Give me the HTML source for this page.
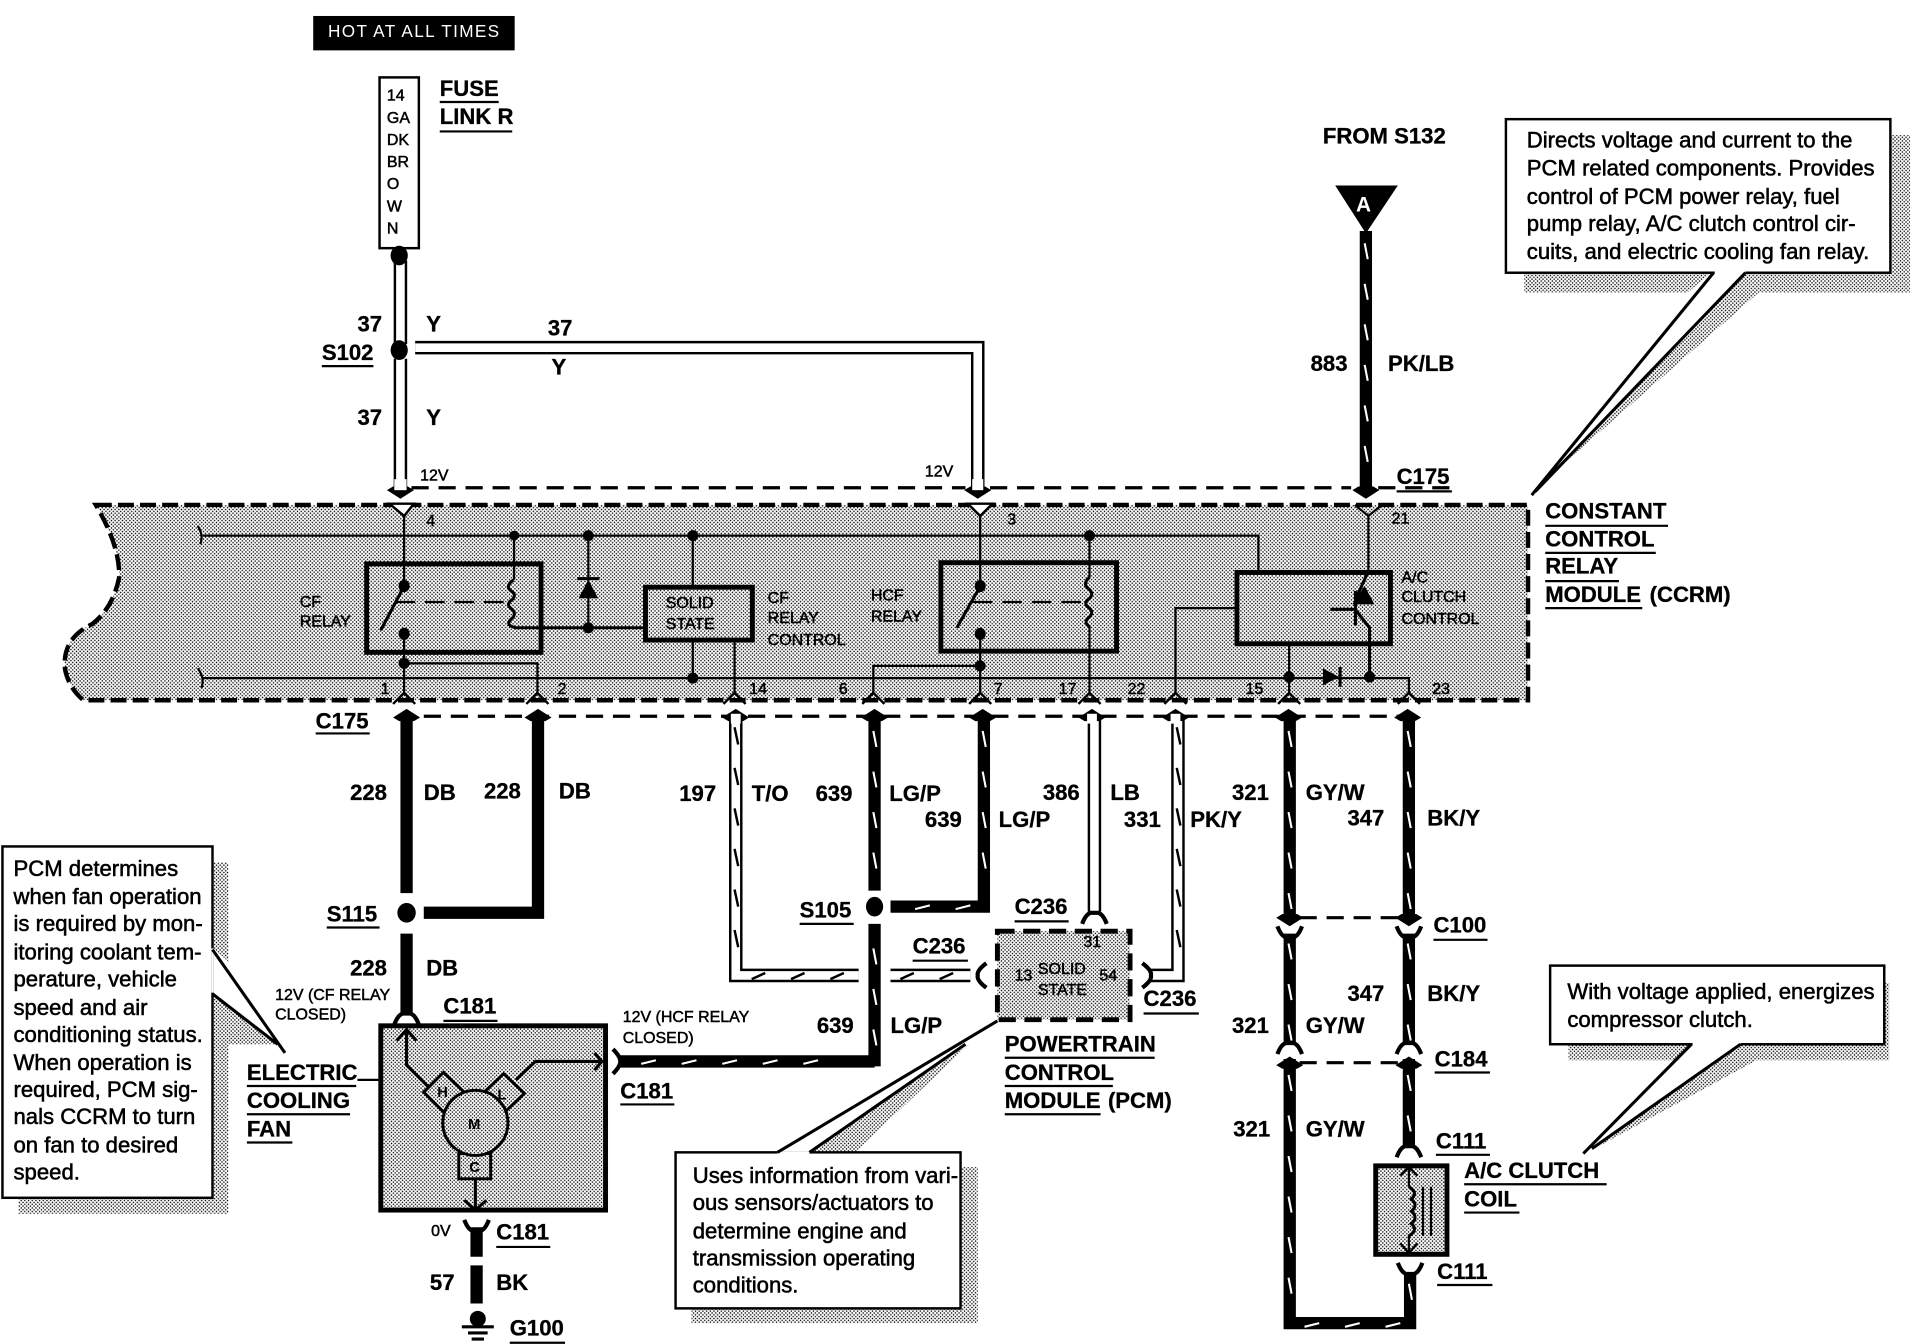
<!DOCTYPE html>
<html><head><meta charset="utf-8"><title>CCRM wiring diagram</title>
<style>
html,body{margin:0;padding:0;background:#fff}
svg{display:block}
text{font-family:"Liberation Sans",sans-serif;fill:#000}
.b{font-weight:bold;font-size:18px;stroke:#000;stroke-width:.25}
.n{font-size:18px;stroke:#000;stroke-width:.45}
.s{font-size:13px;stroke:#000;stroke-width:.4}
.u{stroke:#000;stroke-width:1.8;fill:none}
.w{stroke:#000;stroke-width:10;fill:none}
.t{stroke:#fff;stroke-width:1.7;fill:none}
.d1{stroke:#000;stroke-width:11;fill:none}
.d2{stroke:#fff;stroke-width:7;fill:none}
.tk{stroke:#000;stroke-width:2;fill:none}
.l{stroke:#000;stroke-width:1.8;fill:none}
.m{stroke:#000;stroke-width:2.5;fill:none}
.box{stroke:#000;stroke-width:4;fill:none}
.dash{stroke:#000;stroke-width:2.6;fill:none;stroke-dasharray:14 8}
</style></head><body>
<svg xmlns="http://www.w3.org/2000/svg" width="1926" height="1344" viewBox="0 0 1568 1094" preserveAspectRatio="none">
<defs>
<pattern id="g" patternUnits="userSpaceOnUse" width="3" height="3">
<rect width="3" height="3" fill="#fff"/><circle cx=".75" cy=".75" r=".62" fill="#000"/><circle cx="2.25" cy="2.25" r=".62" fill="#000"/>
</pattern>
<polygon id="au" points="0,-2 11,5 6,8 -6,8 -11,5" fill="#000"/>
<polygon id="ad" points="0,2 11,-5 6,-8 -6,-8 -11,-5" fill="#000"/>
<path id="cu" d="M-10,-6 Q-7,2 -3,3 L3,3 Q7,2 10,-6" fill="none" stroke="#000" stroke-width="3.4"/>
<path id="cd" d="M-10,6 Q-7,-2 -3,-3 L3,-3 Q7,-2 10,6" fill="none" stroke="#000" stroke-width="3.4"/>
<path id="pin" d="M-9,6 L0,-3 L9,6" fill="none" stroke="#000" stroke-width="2"/>
</defs>
<rect width="1568" height="1094" fill="#fff"/>

<!-- header -->
<rect x="255" y="13" width="164" height="28" fill="#000"/>
<text x="267" y="30" style="fill:#fff;font-size:14px;letter-spacing:1.1px">HOT AT ALL TIMES</text>
<rect x="309" y="63" width="32" height="139" fill="#fff" stroke="#000" stroke-width="2"/>
<g><text x="315" y="82" class="s">14</text><text x="315" y="100" class="s">GA</text><text x="315" y="118" class="s">DK</text><text x="315" y="136" class="s">BR</text><text x="315" y="154" class="s">O</text><text x="315" y="172" class="s">W</text><text x="315" y="190" class="s">N</text></g>
<text x="358" y="78" class="b">FUSE</text><path class="u" d="M358 83H406"/>
<text x="358" y="101" class="b">LINK R</text><path class="u" d="M358 107H417"/>

<!-- 37 double wires -->
<path class="d1" d="M326 212V280M326 292V402"/><path class="d2" d="M326 212V280M326 292V402"/>
<path class="d1" d="M338 283H796V402"/><path class="d2" d="M338 283H796V402"/>
<ellipse cx="325" cy="208" rx="7" ry="8" fill="#000"/>
<ellipse cx="325" cy="285" rx="7" ry="8" fill="#000"/>
<use href="#ad" x="326" y="404"/><use href="#ad" x="796" y="404"/>
<rect x="321" y="390" width="10" height="9" fill="#fff"/><rect x="791.500" y="390" width="9" height="9" fill="#fff"/>
<path class="dash" d="M335 397H786M806 397H1100M1122 397H1180"/>
<text x="291" y="270" class="b">37</text><text x="347" y="270" class="b">Y</text>
<text x="446" y="273" class="b">37</text><text x="449" y="305" class="b">Y</text>
<text x="291" y="346" class="b">37</text><text x="347" y="346" class="b">Y</text>
<text x="262" y="293" class="b">S102</text><path class="u" d="M262 298H304"/>
<text x="342" y="391" class="s">12V</text><text x="753" y="388" class="s">12V</text>

<!-- from S132 -->
<text x="1077" y="117" class="b">FROM S132</text>
<polygon points="1087,151 1138,151 1112,190" fill="#000"/>
<text x="1104" y="172" style="fill:#fff;font-weight:bold;font-size:17px">A</text>
<path class="w" d="M1112 188V398"/>
<path class="t" d="M1111 198l2.500 13m-2.500 20l2.500 13m-2.500 20l2.500 13m-2.500 20l2.500 13m-2.500 20l2.500 13m-2.500 20l2.500 13"/>
<use href="#ad" x="1112" y="404"/>
<text x="1067" y="302" class="b">883</text><text x="1130" y="302" class="b">PK/LB</text>
<text x="1137" y="394" class="b">C175</text><path class="u" d="M1137 400H1182"/>

<!-- callout top right -->
<path fill="url(#g)" d="M1241 222H1393L1374 238H1241ZM1421 222H1540V110H1555V238H1432L1270 380Z"/>
<rect x="1226" y="97" width="313" height="125" fill="#fff" stroke="#000" stroke-width="2"/>
<path fill="#fff" d="M1396 221H1421V224H1396Z"/>
<path class="m" d="M1395 222L1247 403M1421 222L1250 400"/>
<text x="1243" y="120" class="n">Directs voltage and current to the</text>
<text x="1243" y="143" class="n">PCM related components. Provides</text>
<text x="1243" y="166" class="n">control of PCM power relay, fuel</text>
<text x="1243" y="188" class="n">pump relay, A/C clutch control cir-</text>
<text x="1243" y="211" class="n">cuits, and electric cooling fan relay.</text>

<!-- CCRM -->
<path d="M78 411H1244V570H68Q56 560 53 545Q50 520 75 508Q92 495 97 470Q98 445 78 411Z" fill="url(#g)"/>
<path d="M78 411H1244V570H68Q56 560 53 545Q50 520 75 508Q92 495 97 470Q98 445 78 411Z" fill="none" stroke="#000" stroke-width="3.6" stroke-dasharray="13 5"/>

<path class="l" d="M165 436H1024.500V465M165 552H1147V564"/>
<path class="l" d="M161 428Q166 436 163 443M161 544Q167 552 164 560"/>
<!-- pin 4 / CF relay -->
<polygon points="317,410 337,410 329,420" fill="#fff" stroke="#000" stroke-width="2"/>
<path class="l" d="M329 420V476M329 515V564M329 540H437.500V564"/>
<rect x="298.500" y="459" width="142" height="72" class="box"/>
<ellipse cx="329" cy="477" rx="4.500" ry="5" fill="#000"/><ellipse cx="329" cy="516" rx="4.500" ry="5" fill="#000"/><circle cx="329" cy="540" r="4.500" fill="#000"/>
<path class="m" d="M328 479L310 513"/>
<path class="l" d="M322 490H415" stroke-dasharray="16 8"/>
<path class="l" d="M418.500 436V472"/>
<path class="m" d="M418 472Q411 477 416 481Q421 484 417 488Q411 492 417 496Q421 500 416 504Q411 509 420 511H525"/>
<circle cx="418.500" cy="436" r="4" fill="#000"/>
<circle cx="479" cy="436" r="4.500" fill="#000"/><circle cx="479" cy="511" r="4.500" fill="#000"/><circle cx="564" cy="436" r="4.500" fill="#000"/><circle cx="564" cy="552" r="4.500" fill="#000"/>
<path class="l" d="M479 436V511"/>
<polygon points="479,472 471,487 487,487" fill="#000"/><path class="m" d="M470 471H488"/>
<path class="l" d="M564 436V477M564 521V552M598 521V564"/>
<rect x="525.500" y="478" width="87" height="43" class="box"/>
<text x="542" y="495" class="s">SOLID</text><text x="542" y="512" class="s">STATE</text>
<text x="244" y="494" class="s">CF</text><text x="244" y="510" class="s">RELAY</text>
<text x="625" y="491" class="s">CF</text><text x="625" y="507" class="s">RELAY</text><text x="625" y="525" class="s">CONTROL</text>
<text x="709" y="489" class="s">HCF</text><text x="709" y="506" class="s">RELAY</text>
<!-- HCF relay -->
<polygon points="788,410 808,410 798,420" fill="#fff" stroke="#000" stroke-width="2"/>
<path class="l" d="M798 420V476M798 515V564M798 542H711V564"/>
<rect x="766" y="458" width="143" height="72" class="box"/>
<ellipse cx="798" cy="477" rx="4.500" ry="5" fill="#000"/><ellipse cx="798" cy="516" rx="4.500" ry="5" fill="#000"/><circle cx="798" cy="542" r="4.500" fill="#000"/>
<path class="m" d="M797 479L779 511"/>
<path class="l" d="M792 490H885" stroke-dasharray="16 8"/>
<path class="l" d="M887 436V470M887 509V564"/>
<path class="m" d="M887 470Q881 475 886 479Q891 483 887 487Q881 491 887 495Q891 499 886 503Q882 507 887 510"/>
<circle cx="887" cy="436" r="4.500" fill="#000"/>
<!-- A/C clutch control -->
<rect x="1007" y="466" width="125" height="58" class="box"/>
<path class="l" d="M1007 495H957V564M1049.500 524V564M1114 420V465"/>
<path d="M1103 411L1114 420L1125 411" class="l"/>
<path class="m" d="M1103.500 481V509M1083 496H1103M1114 465L1104 487M1104 497L1115 511V550"/>
<polygon points="1111,477 1101,492 1119,492" fill="#000"/>
<circle cx="1049.500" cy="551" r="4.500" fill="#000"/><circle cx="1115" cy="551" r="4.500" fill="#000"/>
<polygon points="1077,544 1077,558 1090,551" fill="#000"/><path class="m" d="M1091 543V559"/>
<text x="1141" y="474" class="s">A/C</text><text x="1141" y="490" class="s">CLUTCH</text><text x="1141" y="508" class="s">CONTROL</text>
<!-- pins -->
<use href="#pin" x="329" y="567"/><use href="#pin" x="437.500" y="567"/><use href="#pin" x="598" y="567"/><use href="#pin" x="711" y="567"/><use href="#pin" x="798" y="567"/><use href="#pin" x="887" y="567"/><use href="#pin" x="957" y="567"/><use href="#pin" x="1049.500" y="567"/><use href="#pin" x="1147" y="567"/>
<text x="347" y="428" class="s">4</text><text x="820" y="427" class="s">3</text><text x="1133" y="426" class="s">21</text>
<text x="310" y="565" class="s">1</text><text x="454" y="565" class="s">2</text><text x="610" y="565" class="s">14</text><text x="683" y="565" class="s">6</text><text x="809" y="565" class="s">7</text><text x="862" y="565" class="s">17</text><text x="918" y="565" class="s">22</text><text x="1014" y="565" class="s">15</text><text x="1166" y="565" class="s">23</text>

<text x="1258" y="422" class="b">CONSTANT</text><path class="u" d="M1258 428H1358"/>
<text x="1258" y="445" class="b">CONTROL</text><path class="u" d="M1258 450H1348"/>
<text x="1258" y="467" class="b">RELAY</text><path class="u" d="M1258 473H1318"/>
<text x="1258" y="490" class="b">MODULE</text><path class="u" d="M1258 495H1337"/><text x="1343" y="490" class="b">(CCRM)</text>

<!-- lower C175 -->
<path class="dash" d="M345 583H1140"/>
<text x="257" y="593" class="b">C175</text><path class="u" d="M257 597H301"/>

<path class="w" d="M331 582V727M331 760V825"/>
<path class="w" d="M438 582V748M345 743H438"/>
<use href="#au" x="331" y="579"/><use href="#au" x="438" y="579"/>
<ellipse cx="331" cy="743" rx="7.500" ry="8" fill="#000"/>

<path class="d1" d="M599 582V794H699M725 794H790"/><path class="d2" d="M599 582V794H699M725 794H790"/>
<path class="tk" d="M598 592l3 14m-3 19l3 14m-3 19l3 14m-3 19l3 14m-3 19l3 14m-3 19l3 14"/>
<path class="tk" d="M612 797l11 -5m21 5l11 -5m21 5l11 -5M733 797l11 -5m21 5l11 -5"/>
<use href="#au" x="599" y="579"/><rect x="595" y="581" width="8" height="8" fill="#fff"/>

<path class="w" d="M712 582V725M712 752V868M712 864H505"/>
<path class="t" d="M711 595l2.500 13m-2.500 20l2.500 13m-2.500 20l2.500 13m-2.500 20l2.500 13M711 772l2.500 13m-2.500 20l2.500 13m-2.500 20l2.500 13"/>
<path class="t" d="M522 866l12 -3m21 3l12 -3m21 3l12 -3m21 3l12 -3m21 3l12 -3"/>
<use href="#au" x="712" y="579"/>
<ellipse cx="712" cy="738" rx="7" ry="8" fill="#000"/>
<path class="w" d="M801 582V738M806 738H725"/>
<path class="t" d="M800 595l2.500 13m-2.500 20l2.500 13m-2.500 20l2.500 13m-2.500 20l2.500 13M745 740l12 -3m21 3l12 -3"/>
<use href="#au" x="800" y="579"/>
<path class="d1" d="M891 582V742"/><path class="d2" d="M891 582V742"/>
<use href="#au" x="889" y="579"/><rect x="885" y="581" width="8" height="8" fill="#fff"/>
<use href="#cd" x="891" y="746"/>
<path class="d1" d="M959 582V794H936"/><path class="d2" d="M959 582V794H936"/>
<path class="tk" d="M958 592l3 14m-3 19l3 14m-3 19l3 14m-3 19l3 14m-3 19l3 14m-3 19l3 14"/>
<use href="#au" x="957" y="579"/><rect x="953" y="581" width="8" height="8" fill="#fff"/>
<path d="M930 784Q938 790 937 794Q938 798 930 804" fill="none" stroke="#000" stroke-width="3.4"/>
<path d="M803 784Q795 790 796 794Q795 798 803 804" fill="none" stroke="#000" stroke-width="3.4"/>

<path class="w" d="M1050 582V748M1050 760V850M1050 862V1077H1148V1036"/>
<path class="t" d="M1049 595l2.500 13m-2.500 20l2.500 13m-2.500 20l2.500 13m-2.500 20l2.500 13m-2.500 20l2.500 13M1049 768l2.500 13m-2.500 20l2.500 13m-2.500 20l2.500 13M1049 875l2.500 13m-2.500 20l2.500 13m-2.500 20l2.500 13m-2.500 20l2.500 13m-2.500 20l2.500 13m-2.500 20l2.500 13"/>
<path class="t" d="M1147 1045l2.500 13M1062 1080l12 -3m21 3l12 -3m21 3l12 -3"/>
<path class="w" d="M1147 582V748M1147 760V850M1147 862V932"/>
<path class="t" d="M1146 595l2.500 13m-2.500 20l2.500 13m-2.500 20l2.500 13m-2.500 20l2.500 13m-2.500 20l2.500 13M1146 768l2.500 13m-2.500 20l2.500 13m-2.500 20l2.500 13M1146 875l2.500 13m-2.500 20l2.500 13"/>
<use href="#au" x="1049" y="579"/><use href="#au" x="1146" y="579"/>
<use href="#ad" x="1050" y="752"/><use href="#ad" x="1147" y="752"/>
<use href="#cu" x="1050" y="760"/><use href="#cu" x="1147" y="760"/>
<use href="#cd" x="1050" y="852"/><use href="#cd" x="1147" y="852"/>
<use href="#au" x="1050" y="862"/><use href="#au" x="1147" y="862"/>
<path class="dash" d="M1058 747H1138M1058 865H1138"/>

<text x="285" y="651" class="b">228</text><text x="345" y="651" class="b">DB</text>
<text x="394" y="650" class="b">228</text><text x="455" y="650" class="b">DB</text>
<text x="553" y="652" class="b">197</text><text x="612" y="652" class="b">T/O</text>
<text x="664" y="652" class="b">639</text><text x="724" y="652" class="b">LG/P</text>
<text x="753" y="673" class="b">639</text><text x="813" y="673" class="b">LG/P</text>
<text x="849" y="651" class="b">386</text><text x="904" y="651" class="b">LB</text>
<text x="915" y="673" class="b">331</text><text x="969" y="673" class="b">PK/Y</text>
<text x="1003" y="651" class="b">321</text><text x="1063" y="651" class="b">GY/W</text>
<text x="1097" y="672" class="b">347</text><text x="1162" y="672" class="b">BK/Y</text>
<text x="285" y="794" class="b">228</text><text x="347" y="794" class="b">DB</text>
<text x="665" y="841" class="b">639</text><text x="725" y="841" class="b">LG/P</text>
<text x="1097" y="815" class="b">347</text><text x="1162" y="815" class="b">BK/Y</text>
<text x="1003" y="841" class="b">321</text><text x="1063" y="841" class="b">GY/W</text>
<text x="1004" y="925" class="b">321</text><text x="1063" y="925" class="b">GY/W</text>
<text x="266" y="750" class="b">S115</text><path class="u" d="M266 755H309"/>
<text x="651" y="747" class="b">S105</text><path class="u" d="M651 752H695"/>
<text x="826" y="744" class="b">C236</text><path class="u" d="M826 750H870"/>
<text x="743" y="776" class="b">C236</text><path class="u" d="M743 782H788"/>
<text x="931" y="819" class="b">C236</text><path class="u" d="M931 825H976"/>
<text x="1167" y="759" class="b">C100</text><path class="u" d="M1167 765H1211"/>
<text x="1168" y="868" class="b">C184</text><path class="u" d="M1168 873H1213"/>
<text x="1169" y="935" class="b">C111</text><path class="u" d="M1169 940H1213"/>
<text x="1170" y="1041" class="b">C111</text><path class="u" d="M1170 1046H1215"/>

<!-- left callout -->
<path fill="url(#g)" d="M172 702H186V783L172 770ZM172 809L226 850H186V988H15V975H172Z"/>
<rect x="2" y="689" width="171" height="286" fill="#fff" stroke="#000" stroke-width="2"/>
<path fill="#fff" d="M172 772H174V808H172Z"/>
<path class="m" d="M173 773L232 857M173 809L226 850"/>
<text x="11" y="713" class="n">PCM determines</text>
<text x="11" y="736" class="n">when fan operation</text>
<text x="11" y="758" class="n">is required by mon-</text>
<text x="11" y="781" class="n">itoring coolant tem-</text>
<text x="11" y="803" class="n">perature, vehicle</text>
<text x="11" y="826" class="n">speed and air</text>
<text x="11" y="848" class="n">conditioning status.</text>
<text x="11" y="871" class="n">When operation is</text>
<text x="11" y="893" class="n">required, PCM sig-</text>
<text x="11" y="915" class="n">nals CCRM to turn</text>
<text x="11" y="938" class="n">on fan to desired</text>
<text x="11" y="960" class="n">speed.</text>

<!-- motor -->
<text x="224" y="814" class="s">12V (CF RELAY</text><text x="224" y="830" class="s">CLOSED)</text>
<text x="507" y="832" class="s">12V (HCF RELAY</text><text x="507" y="849" class="s">CLOSED)</text>
<use href="#cd" x="331" y="828"/>
<text x="361" y="825" class="b">C181</text><path class="u" d="M361 831H405"/>
<text x="505" y="894" class="b">C181</text><path class="u" d="M505 899H549"/>
<text x="201" y="879" class="b">ELECTRIC</text><path class="u" d="M201 884H290"/><path class="l" d="M291 879H308"/>
<text x="201" y="902" class="b">COOLING</text><path class="u" d="M201 907H285"/>
<text x="201" y="925" class="b">FAN</text><path class="u" d="M201 930H238"/>
<path d="M499 854Q505 860 505 864Q505 868 499 874" fill="none" stroke="#000" stroke-width="3.4"/>
<rect x="310" y="835" width="183" height="150" fill="url(#g)" stroke="#000" stroke-width="4"/>
<path class="m" d="M331 838V867L351 887M323 847L331 838L339 847M420 879L436 864H490M484 857L490 864L484 871M387 960V984M378 977L387 985L396 977"/>
<polygon points="361,873 378,889 361,905 345,889" fill="url(#g)" stroke="#000" stroke-width="2.400"/>
<polygon points="410,874 427,890 410,906 393,890" fill="url(#g)" stroke="#000" stroke-width="2.400"/>
<rect x="373.500" y="939" width="26" height="20.500" fill="url(#g)" stroke="#000" stroke-width="2.400"/>
<circle cx="387" cy="914" r="26.500" fill="url(#g)" stroke="#000" stroke-width="2.400"/>
<text x="356" y="893" style="font-size:12px;font-weight:bold">H</text><text x="405" y="895" style="font-size:12px;font-weight:bold">L</text><text x="381" y="919" style="font-size:12px;font-weight:bold">M</text><text x="382" y="954" style="font-size:12px;font-weight:bold">C</text>
<path class="w" d="M388 999V1023M388 1030V1061"/>
<use href="#cu" x="388" y="999"/>
<text x="351" y="1006" class="s">0V</text>
<text x="404" y="1009" class="b">C181</text><path class="u" d="M404 1015H448"/>
<text x="350" y="1050" class="b">57</text><text x="404" y="1050" class="b">BK</text>
<circle cx="389" cy="1073.500" r="6.500" fill="#000"/>
<path class="m" d="M376 1080H402M381 1085H397M384 1090H394"/>
<text x="415" y="1087" class="b">G100</text><path class="u" d="M415 1093H460"/>

<!-- PCM -->
<rect x="812" y="758" width="108" height="72" fill="url(#g)"/>
<rect x="812" y="758" width="108" height="72" fill="none" stroke="#000" stroke-width="4" stroke-dasharray="14 7"/>
<text x="882" y="771" class="s">31</text><text x="826" y="798" class="s">13</text><text x="845" y="793" class="s">SOLID</text><text x="845" y="810" class="s">STATE</text><text x="895" y="798" class="s">54</text>
<text x="818" y="856" class="b">POWERTRAIN</text><path class="u" d="M818 861H940"/>
<text x="818" y="879" class="b">CONTROL</text><path class="u" d="M818 884H906"/>
<text x="818" y="902" class="b">MODULE</text><path class="u" d="M818 907H896"/><text x="902" y="902" class="b">(PCM)</text>

<!-- lower center callout -->
<path fill="url(#g)" d="M659 938L789 850 696 938Z"/>
<path fill="url(#g)" d="M563 1065H782V950H796V1077H563Z"/>
<rect x="550" y="938" width="232" height="127" fill="#fff" stroke="#000" stroke-width="2"/>
<path fill="#fff" d="M633 937H659V940H633Z"/>
<path class="m" d="M633 938L812 831M659 938L786 850"/>
<text x="564" y="963" class="n">Uses information from vari-</text>
<text x="564" y="985" class="n">ous sensors/actuators to</text>
<text x="564" y="1008" class="n">determine engine and</text>
<text x="564" y="1030" class="n">transmission operating</text>
<text x="564" y="1052" class="n">conditions.</text>

<!-- right lower callout -->
<path fill="url(#g)" d="M1277 850H1375L1367 863H1277ZM1417 850H1534V800H1538V863H1430L1298 935Z"/>
<rect x="1262" y="786" width="272" height="64" fill="#fff" stroke="#000" stroke-width="2"/>
<path fill="#fff" d="M1378 849H1417V852H1378Z"/>
<path class="m" d="M1377 850L1289 939M1417 850L1296 935"/>
<text x="1276" y="813" class="n">With voltage applied, energizes</text>
<text x="1276" y="836" class="n">compressor clutch.</text>

<!-- A/C coil -->
<use href="#cd" x="1147" y="936"/>
<rect x="1120" y="949" width="58" height="72" fill="url(#g)" stroke="#000" stroke-width="4"/>
<path class="l" d="M1147 950V966M1147 1005V1020M1140 957L1147 950L1154 957M1140 1012L1147 1020L1154 1012"/>
<path class="m" d="M1147 966Q1155 971 1149 976Q1155 981 1149 986Q1155 991 1149 996Q1155 1001 1147 1006"/>
<path class="l" d="M1158.500 966V1006M1165 966V1006"/>
<use href="#cu" x="1148" y="1034"/>
<text x="1192" y="959" class="b">A/C CLUTCH</text><path class="u" d="M1192 964H1308"/>
<text x="1192" y="982" class="b">COIL</text><path class="u" d="M1192 987H1237"/>
</svg>
</body></html>
